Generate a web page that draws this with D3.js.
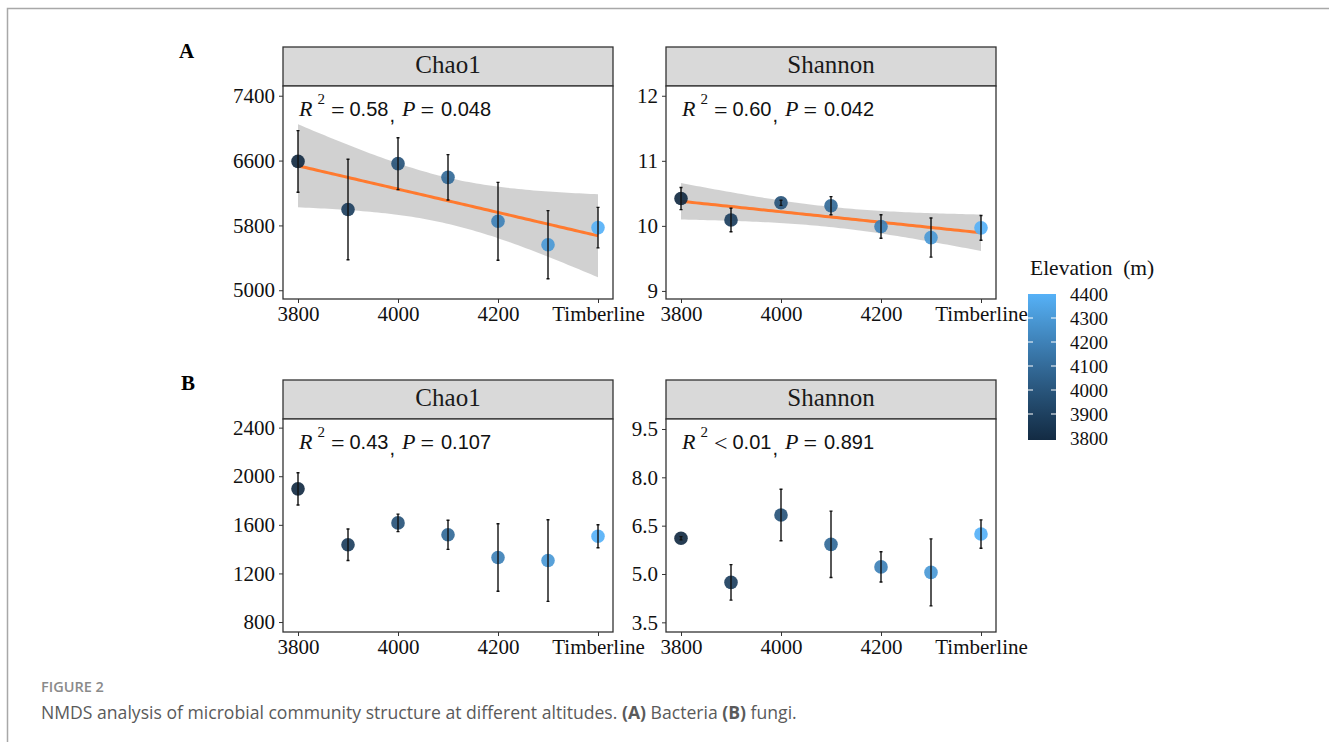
<!DOCTYPE html>
<html>
<head>
<meta charset="utf-8">
<script src="https://cdn.jsdelivr.net/npm/d3@7"></script>
<style>
  body { margin: 0; background: #fff; }
  svg { display: block; }
</style>
</head>
<body>
<script>
const WIDTH = 1329;
const HEIGHT = 742;
const SERIF = "'Liberation Serif', 'Times New Roman', serif";
const SANS = "'Liberation Sans', Arial, sans-serif";

// elevation of each sampling site (Timberline plotted at 4400)
const elevations = [3800, 3900, 4000, 4100, 4200, 4300, 4400];
const xTickValues = [3800, 4000, 4200, 4400];
const xTickLabels = ["3800", "4000", "4200", "Timberline"];

// bacteria (A)
const bacChao1Mean = [6590, 5996, 6562, 6393, 5851, 5562, 5773];
const bacChao1Err = [380, 620, 320, 280, 480, 420, 250];
const bacShannonMean = [10.42, 10.09, 10.355, 10.31, 9.99, 9.82, 9.97];
const bacShannonErr = [0.17, 0.18, 0.04, 0.14, 0.18, 0.30, 0.19];

// fungi (B)
const funChao1Mean = [1896, 1436, 1616, 1518, 1331, 1306, 1506];
const funChao1Err = [133, 130, 72, 120, 278, 336, 95];
const funShannonMean = [6.11, 4.74, 6.83, 5.92, 5.22, 5.05, 6.24];
const funShannonErr = [0.05, 0.55, 0.80, 1.03, 0.47, 1.04, 0.44];

const bacChao1Ticks = [5000, 5800, 6600, 7400];
const bacShannonTicks = [9, 10, 11, 12];
const funChao1Ticks = [800, 1200, 1600, 2000, 2400];
const funShannonTicks = [3.5, 5.0, 6.5, 8.0, 9.5];

const statsOp = ["=", "=", "=", "<"];
const statsR2 = ["0.58", "0.60", "0.43", "0.01"];
const statsP = ["0.048", "0.042", "0.107", "0.891"];
const legendTicks = [3800, 3900, 4000, 4100, 4200, 4300, 4400];

const panels = [
  { row: 0, col: 0, title: "Chao1", mean: bacChao1Mean, err: bacChao1Err, domain: [4892, 7520], ticks: bacChao1Ticks, fmt: d3.format("d"), fit: true, k: 0 },
  { row: 0, col: 1, title: "Shannon", mean: bacShannonMean, err: bacShannonErr, domain: [8.876, 12.15], ticks: bacShannonTicks, fmt: d3.format("d"), fit: true, k: 1 },
  { row: 1, col: 0, title: "Chao1", mean: funChao1Mean, err: funChao1Err, domain: [718, 2471], ticks: funChao1Ticks, fmt: d3.format("d"), fit: false, k: 2 },
  { row: 1, col: 1, title: "Shannon", mean: funShannonMean, err: funShannonErr, domain: [3.2, 9.81], ticks: funShannonTicks, fmt: d3.format(".1f"), fit: false, k: 3 },
];

const COL_X = [283, 666];
const ROW_Y = [86, 419];
const PANEL_W = 330;
const PANEL_H = 213;
const STRIP_H = 39;

const color = d3.scaleLinear([3800, 4400], ["#132B43", "#56B1F7"]).interpolate(d3.interpolateLab);

const svg = d3.select("body").append("svg")
  .attr("width", WIDTH)
  .attr("height", HEIGHT)
  .attr("viewBox", [0, 0, WIDTH, HEIGHT]);

// page frame
svg.append("path")
  .attr("d", `M7.5,${HEIGHT} V8.5 H${WIDTH}`)
  .attr("fill", "none")
  .attr("stroke", "#a8a8a8")
  .attr("stroke-width", 1.5);

// simple lm fit with 95% confidence band, as geom_smooth(method = "lm")
function lmBand(xs, ys) {
  const n = xs.length;
  const mx = d3.mean(xs), my = d3.mean(ys);
  const sxx = d3.sum(xs, x => (x - mx) ** 2);
  const sxy = d3.sum(xs, (x, i) => (x - mx) * (ys[i] - my));
  const b = sxy / sxx, a = my - b * mx;
  const s = Math.sqrt(d3.sum(xs, (x, i) => (ys[i] - a - b * x) ** 2) / (n - 2));
  const t = 2.5706; // t(0.975, df = 5)
  const grid = d3.range(80).map(i => d3.min(xs) + (d3.max(xs) - d3.min(xs)) * i / 79);
  return grid.map(x => {
    const fit = a + b * x;
    const half = t * s * Math.sqrt(1 / n + (x - mx) ** 2 / sxx);
    return { x, fit, lo: fit - half, hi: fit + half };
  });
}

panels.forEach(p => {
  const x0 = COL_X[p.col], y0 = ROW_Y[p.row];
  const x = d3.scaleLinear([3770, 4430], [x0, x0 + PANEL_W]);
  const y = d3.scaleLinear(p.domain, [y0 + PANEL_H, y0]);
  const g = svg.append("g");

  // strip
  g.append("rect")
    .attr("x", x0).attr("y", y0 - STRIP_H)
    .attr("width", PANEL_W).attr("height", STRIP_H)
    .attr("fill", "#d9d9d9")
    .attr("stroke", "#333").attr("stroke-width", 1.3);
  g.append("text")
    .attr("x", x0 + PANEL_W / 2).attr("y", y0 - 13)
    .attr("text-anchor", "middle")
    .style("font", `25px ${SERIF}`)
    .attr("fill", "#1a1a1a")
    .text(p.title);

  // panel background
  g.append("rect")
    .attr("x", x0).attr("y", y0)
    .attr("width", PANEL_W).attr("height", PANEL_H)
    .attr("fill", "#fff");

  if (p.fit) {
    const band = lmBand(elevations, p.mean);
    g.append("path")
      .datum(band)
      .attr("fill", "#9a9a9a")
      .attr("fill-opacity", 0.45)
      .attr("d", d3.area().x(d => x(d.x)).y0(d => y(d.lo)).y1(d => y(d.hi)));
    g.append("path")
      .datum(band)
      .attr("fill", "none")
      .attr("stroke", "#ff7a2f")
      .attr("stroke-width", 3)
      .attr("d", d3.line().x(d => x(d.x)).y(d => y(d.fit)));
  }

  const data = elevations.map((e, i) => ({ e, m: p.mean[i], s: p.err[i] }));

  g.append("g")
    .selectAll("circle")
    .data(data)
    .join("circle")
      .attr("cx", d => x(d.e))
      .attr("cy", d => y(d.m))
      .attr("r", 6.8)
      .attr("fill", d => color(d.e))
      .attr("fill-opacity", 0.92);

  const bars = g.append("g")
    .attr("stroke", "#111")
    .attr("stroke-width", 1.4)
    .attr("fill", "none");
  bars.selectAll("path")
    .data(data)
    .join("path")
      .attr("d", d => {
        const cx = x(d.e), top = y(d.m + d.s), bot = y(d.m - d.s);
        return `M${cx - 1.5},${top}H${cx + 1.5}M${cx},${top}V${bot}M${cx - 1.5},${bot}H${cx + 1.5}`;
      });

  // panel border
  g.append("rect")
    .attr("x", x0).attr("y", y0)
    .attr("width", PANEL_W).attr("height", PANEL_H)
    .attr("fill", "none")
    .attr("stroke", "#333").attr("stroke-width", 1.3);

  // axes
  const yAxis = d3.axisLeft(y).tickValues(p.ticks).tickFormat(p.fmt).tickSize(4).tickPadding(4);
  const xAxis = d3.axisBottom(x).tickValues(xTickValues)
    .tickFormat((d, i) => xTickLabels[i]).tickSize(4).tickPadding(3);

  g.append("g")
    .attr("transform", `translate(${x0},0)`)
    .call(yAxis)
    .call(a => a.select(".domain").remove())
    .call(a => a.selectAll("line").attr("stroke", "#333"))
    .call(a => a.selectAll("text").attr("fill", "#111").style("font", `21px ${SERIF}`));

  g.append("g")
    .attr("transform", `translate(0,${y0 + PANEL_H})`)
    .call(xAxis)
    .call(a => a.select(".domain").remove())
    .call(a => a.selectAll("line").attr("stroke", "#333"))
    .call(a => a.selectAll("text").attr("fill", "#111").style("font", `21px ${SERIF}`));

  // R^2 / P annotation
  const t = g.append("text")
    .attr("x", x0 + 16)
    .attr("y", y0 + 30)
    .attr("fill", "#111")
    .style("font", `20px ${SANS}`);
  t.append("tspan").style("font", `italic 22px ${SERIF}`).text("R");
  t.append("tspan").style("font", `15px ${SERIF}`).attr("dx", 5).attr("dy", -12).text("2");
  t.append("tspan").style("font", `24px ${SERIF}`).attr("dx", 6).attr("dy", 14).text(statsOp[p.k]);
  t.append("tspan").attr("dx", 5).attr("dy", -2).text(statsR2[p.k]);
  t.append("tspan").attr("dx", 1).attr("dy", 6).text(",");
  t.append("tspan").style("font", `italic 22px ${SERIF}`).attr("dx", 7).attr("dy", -6).text("P");
  t.append("tspan").style("font", `24px ${SERIF}`).attr("dx", 5).attr("dy", 2).text("=");
  t.append("tspan").attr("dx", 7).attr("dy", -2).text(statsP[p.k]);
});

// panel letters
svg.append("text").attr("x", 179).attr("y", 58)
  .style("font", `bold 21px ${SERIF}`).text("A");
svg.append("text").attr("x", 181).attr("y", 390)
  .style("font", `bold 21px ${SERIF}`).text("B");

// colour bar legend
const legX = 1028, legW = 28;
const ly = d3.scaleLinear([3800, 4400], [438, 294]);
const defs = svg.append("defs");
const grad = defs.append("linearGradient")
  .attr("id", "elev").attr("x1", 0).attr("y1", 1).attr("x2", 0).attr("y2", 0);
legendTicks.forEach(v => grad.append("stop")
  .attr("offset", (v - 3800) / 600)
  .attr("stop-color", color(v)));

svg.append("text").attr("x", 1030).attr("y", 275)
  .style("font", `21.5px ${SERIF}`).attr("fill", "#111")
  .attr("xml:space", "preserve")
  .text("Elevation  (m)");
svg.append("rect")
  .attr("x", legX).attr("y", ly(4400))
  .attr("width", legW).attr("height", ly(3800) - ly(4400) + 2)
  .attr("fill", "url(#elev)");
const lt = svg.append("g");
lt.selectAll("path")
  .data(legendTicks.slice(1, -1))
  .join("path")
    .attr("d", d => `M${legX},${ly(d)}h5M${legX + legW - 5},${ly(d)}h5`)
    .attr("stroke", "#fff").attr("stroke-width", 1.2);
lt.selectAll("text")
  .data(legendTicks)
  .join("text")
    .attr("x", 1070)
    .attr("y", d => ly(d))
    .attr("dy", "0.35em")
    .style("font", `19px ${SERIF}`)
    .attr("fill", "#111")
    .text(d => d);

// caption
svg.append("text").attr("x", 41).attr("y", 692)
  .style("font", `600 14.5px 'Open Sans', sans-serif`)
  .attr("fill", "#8a8a8a")
  .text("FIGURE 2");
const cap = svg.append("text").attr("x", 41).attr("y", 719)
  .style("font", `17.6px 'Open Sans', sans-serif`)
  .attr("fill", "#5a5a5a");
cap.append("tspan").text("NMDS analysis of microbial community structure at different altitudes. ");
cap.append("tspan").attr("font-weight", 700).text("(A)");
cap.append("tspan").text(" Bacteria ");
cap.append("tspan").attr("font-weight", 700).text("(B)");
cap.append("tspan").text(" fungi.");
</script>
</body>
</html>
